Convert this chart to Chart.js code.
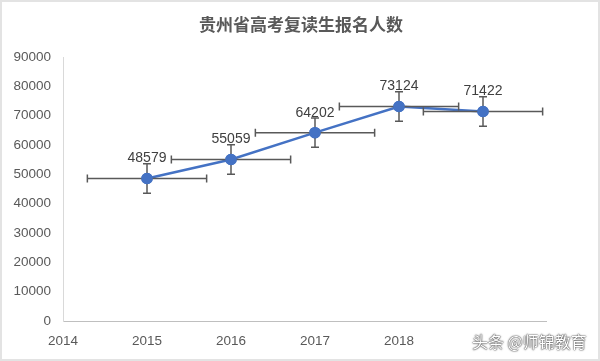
<!DOCTYPE html>
<html><head><meta charset="utf-8">
<script src="https://cdn.jsdelivr.net/npm/chart.js@4/dist/chart.umd.min.js"></script>
<style>
html,body{margin:0;padding:0;background:#fff;}
#wrap{position:relative;width:600px;height:361px;overflow:hidden;}
#frame{position:absolute;left:0;top:0;width:600px;height:361px;box-sizing:border-box;border:2px solid #e3e3e3;pointer-events:none;}
#wm{position:absolute;left:472px;top:329px;font:16px "Noto Sans CJK SC";color:#fff;text-shadow:0 0 2px #333,0 0 1px #000;white-space:nowrap;}
</style></head>
<body><div id="wrap"><canvas id="c" width="600" height="361"></canvas><div id="frame"></div><div id="wm">头条 @师锦教育</div></div>
<script>
const title = '贵州省高考复读生报名人数';
const years = [2015, 2016, 2017, 2018, 2019];
const counts = [48579, 55059, 64202, 73124, 71422];
const xError = [0.71, 0.71, 0.71, 0.71, 0.71];
const yError = [5000, 5000, 5000, 5000, 5000];
const yTicks = [0, 10000, 20000, 30000, 40000, 50000, 60000, 70000, 80000, 90000];

const points = years.map((y, i) => ({x: y, y: counts[i]}));

const extras = {
  id: 'extras',
  afterDatasetsDraw(chart) {
    const ctx = chart.ctx, xs = chart.scales.x, ys = chart.scales.y;
    ctx.save();
    ctx.strokeStyle = '#595959';
    ctx.lineWidth = 1.5;
    points.forEach((p, i) => {
      const px = xs.getPixelForValue(p.x), py = ys.getPixelForValue(p.y);
      const x1 = xs.getPixelForValue(p.x - xError[i]), x2 = xs.getPixelForValue(p.x + xError[i]);
      const y1 = ys.getPixelForValue(p.y - yError[i]), y2 = ys.getPixelForValue(p.y + yError[i]);
      ctx.beginPath();
      ctx.moveTo(x1, py); ctx.lineTo(x2, py);
      ctx.moveTo(x1, py - 4); ctx.lineTo(x1, py + 4);
      ctx.moveTo(x2, py - 4); ctx.lineTo(x2, py + 4);
      ctx.moveTo(px, y1); ctx.lineTo(px, y2);
      ctx.moveTo(px - 4, y1); ctx.lineTo(px + 4, y1);
      ctx.moveTo(px - 4, y2); ctx.lineTo(px + 4, y2);
      ctx.stroke();
    });
    const meta = chart.getDatasetMeta(0);
    meta.data.forEach(el => el.draw(ctx));
    ctx.fillStyle = '#404040';
    ctx.font = '14px "Liberation Sans"';
    ctx.textAlign = 'center';
    ctx.textBaseline = 'middle';
    points.forEach(p => {
      ctx.fillText(String(p.y), xs.getPixelForValue(p.x), ys.getPixelForValue(p.y) - 20);
    });
    ctx.fillStyle = '#595959';
    ctx.font = 'bold 17px "Noto Sans CJK SC"';
    ctx.fillText(title, 301, 25);
    ctx.restore();
  }
};

new Chart(document.getElementById('c'), {
  type: 'scatter',
  data: {
    datasets: [{
      data: points,
      showLine: true,
      borderColor: '#4472C4',
      backgroundColor: '#4472C4',
      borderWidth: 2.5,
      pointRadius: 4.5,
      pointHoverRadius: 4.5,
      tension: 0
    }]
  },
  options: {
    responsive: false,
    animation: false,
    events: [],
    layout: {padding: {top: 57, right: 54, left: 0, bottom: 0}},
    plugins: {legend: {display: false}, tooltip: {enabled: false}, title: {display: false}},
    scales: {
      x: {
        type: 'linear', min: 2014, max: 2019.75,
        afterBuildTicks: s => { s.ticks = s.ticks.filter(t => Number.isInteger(t.value)); },
        afterFit: s => { s.height = 40; },
        grid: {display: false, drawTicks: false},
        border: {color: '#BFBFBF', width: 1},
        ticks: {stepSize: 1, color: '#595959', font: {family: 'Liberation Sans', size: 13.5}, padding: 12, maxRotation: 0, callback: v => String(v)}
      },
      y: {
        min: 0, max: 90000,
        afterBuildTicks: s => { s.ticks = yTicks.map(v => ({value: v})); },
        afterFit: s => { s.width = 63; },
        grid: {display: false, drawTicks: false},
        border: {color: '#D9D9D9', width: 1},
        ticks: {color: '#595959', font: {family: 'Liberation Sans', size: 13.5}, padding: 12, callback: v => String(v)}
      }
    }
  },
  plugins: [extras]
});
</script>
</body></html>
